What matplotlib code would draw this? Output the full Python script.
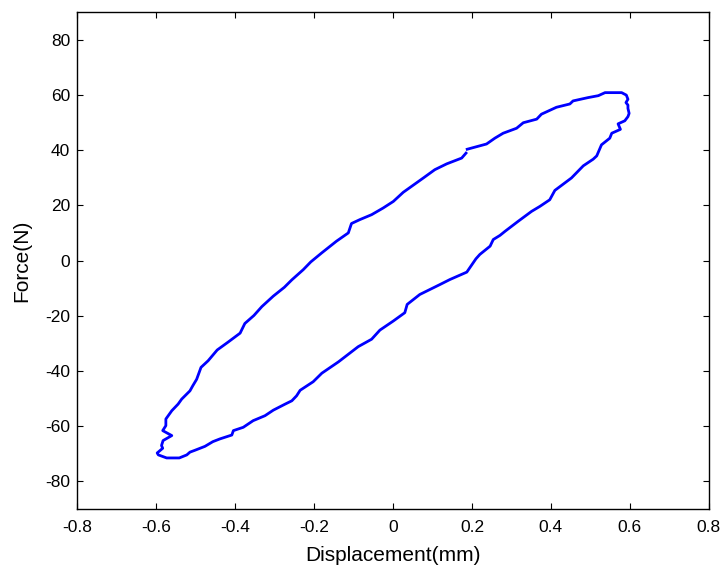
import matplotlib
matplotlib.use("Agg")
import matplotlib.pyplot as plt

plt.rcParams['font.family'] = ['Liberation Sans', 'DejaVu Sans']

# hysteresis loop (starts right after the small gap near x=0.19)
disp = [0.188, 0.237, 0.258, 0.279, 0.313, 0.330, 0.364, 0.376, 0.414, 0.448, 0.456,
        0.494, 0.520, 0.537, 0.579, 0.591, 0.595, 0.590, 0.595, 0.595, 0.598, 0.595,
        0.587, 0.570, 0.576, 0.554, 0.549, 0.528, 0.516, 0.507, 0.482, 0.452, 0.410,
        0.397, 0.372, 0.351, 0.317, 0.284, 0.271, 0.254, 0.246, 0.220, 0.210, 0.187,
        0.144, 0.119, 0.068, 0.036, 0.030, 0.001, -0.033, -0.054, -0.088, -0.138,
        -0.180, -0.202, -0.235, -0.244, -0.256, -0.273, -0.303, -0.324, -0.354, -0.379,
        -0.404, -0.408, -0.438, -0.456, -0.476, -0.501, -0.514, -0.522, -0.541, -0.573,
        -0.594, -0.597, -0.583, -0.586, -0.582, -0.560, -0.583, -0.575, -0.575, -0.560,
        -0.544, -0.535, -0.514, -0.507, -0.497, -0.486, -0.468, -0.445, -0.417, -0.387,
        -0.375, -0.352, -0.332, -0.303, -0.275, -0.256, -0.227, -0.208, -0.180, -0.143,
        -0.113, -0.105, -0.084, -0.054, -0.025, 0.001, 0.026, 0.077, 0.106, 0.136,
        0.174, 0.185]
force = [40.3, 42.2, 44.3, 46.1, 47.9, 49.9, 51.2, 53.0, 55.5, 56.7, 57.8,
         59.0, 59.7, 60.8, 60.8, 59.9, 58.4, 57.2, 56.3, 55.1, 53.3, 52.1,
         50.6, 49.5, 47.5, 46.1, 44.3, 41.9, 37.9, 36.7, 34.3, 29.9, 25.4,
         22.0, 19.6, 17.8, 14.2, 10.6, 9.1, 7.6, 5.2, 2.2, 0.6, -4.2,
         -6.9, -8.7, -12.3, -15.9, -18.9, -21.9, -25.2, -28.5, -31.2, -36.7,
         -40.8, -43.9, -47.0, -49.0, -50.8, -52.0, -54.2, -56.2, -58.0, -60.4,
         -61.6, -63.2, -64.6, -65.6, -67.3, -68.7, -69.4, -70.4, -71.5, -71.5,
         -70.4, -69.7, -68.0, -67.0, -65.2, -63.4, -61.6, -59.8, -57.4, -54.4,
         -52.0, -50.2, -47.2, -45.4, -43.0, -38.7, -36.3, -32.4, -29.5, -26.3,
         -22.8, -19.9, -16.7, -12.9, -9.7, -7.0, -3.3, -0.5, 2.8, 7.0,
         10.0, 13.4, 14.8, 16.6, 19.0, 21.4, 24.7, 29.9, 32.9, 35.0,
         37.1, 38.9]

x_ticks = [-0.8, -0.6, -0.4, -0.2, 0, 0.2, 0.4, 0.6, 0.8]
y_ticks = [-80, -60, -40, -20, 0, 20, 40, 60, 80]

fig = plt.figure(figsize=(7.23, 5.69), dpi=100)
ax = fig.add_axes([0.1065, 0.1054, 0.874, 0.8735])

ax.plot(disp, force, color='#0000ff', linewidth=2.0, solid_joinstyle='round')

ax.set_xlim(-0.8, 0.8)
ax.set_ylim(-90, 90)
ax.set_xticks(x_ticks)
ax.set_yticks(y_ticks)
ax.set_xticklabels([f"{v:g}" for v in x_ticks])
ax.set_yticklabels([f"{v:g}" for v in y_ticks])
ax.tick_params(direction='in', top=True, right=True, length=4.5, width=0.8,
               labelsize=12.5, colors='black')
ax.tick_params(axis='x', pad=8)
ax.tick_params(axis='y', pad=5)

for s in ax.spines.values():
    s.set_linewidth(1.0)

ax.set_xlabel("Displacement(mm)", fontsize=15, labelpad=8)
ax.set_ylabel("Force(N)", fontsize=15, labelpad=10)

fig.savefig("out.png", dpi=100)
